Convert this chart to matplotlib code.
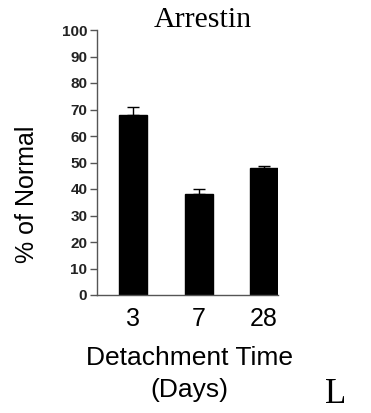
import matplotlib
matplotlib.use("Agg")
import matplotlib.pyplot as plt

categories = ["3", "7", "28"]
values = [68, 38, 48]
errors = [3, 2, 0.8]
yticks = [0, 10, 20, 30, 40, 50, 60, 70, 80, 90, 100]

W, H = 371, 413
fig = plt.figure(figsize=(W / 100, H / 100), dpi=100)
ax = fig.add_axes([97 / W, 1 - 295 / H, (278 - 97) / W, (295 - 30) / H])

x = list(range(len(categories)))
ax.bar(x, values, width=0.43, color="black", edgecolor="black")
ax.errorbar(x, values, yerr=[[0] * len(errors), errors], fmt="none",
            ecolor="black", elinewidth=1, capsize=4, capthick=1)

ax.set_xlim(-0.554, 2.215)
ax.set_ylim(0, 100)
ax.set_yticks(yticks)
ax.set_yticklabels([str(t) for t in yticks], fontfamily="Liberation Sans",
                   fontsize=11, fontweight="bold", color="#222222")
ax.set_xticks(x)
ax.set_xticklabels(categories, fontfamily="Liberation Sans", fontsize=18)
ax.tick_params(axis="x", length=0, pad=9)
ax.tick_params(axis="y", length=5, width=1, color="#555555", pad=2)
for s in ["top", "right"]:
    ax.spines[s].set_visible(False)
for s in ["left", "bottom"]:
    ax.spines[s].set_color("#555555")
    ax.spines[s].set_linewidth(1)

fig.text(203 / W, 1 - 27 / H, "Arrestin", fontfamily="Liberation Serif",
         fontsize=21.5, ha="center", va="baseline")
fig.text(27 / W, 1 - 194 / H, "% of Normal", fontfamily="Liberation Sans",
         fontsize=18, rotation=90, ha="center", va="center")
fig.text(189.5 / W, 1 - 365 / H, "Detachment Time", fontfamily="Liberation Sans",
         fontsize=19, ha="center", va="baseline")
fig.text(189 / W, 1 - 397 / H, "(Days)", fontfamily="Liberation Sans",
         fontsize=19, ha="center", va="baseline")
fig.text(336 / W, 1 - 403 / H, "L", fontfamily="Liberation Serif",
         fontsize=25, ha="center", va="baseline")

fig.savefig("out.png", dpi=100)
